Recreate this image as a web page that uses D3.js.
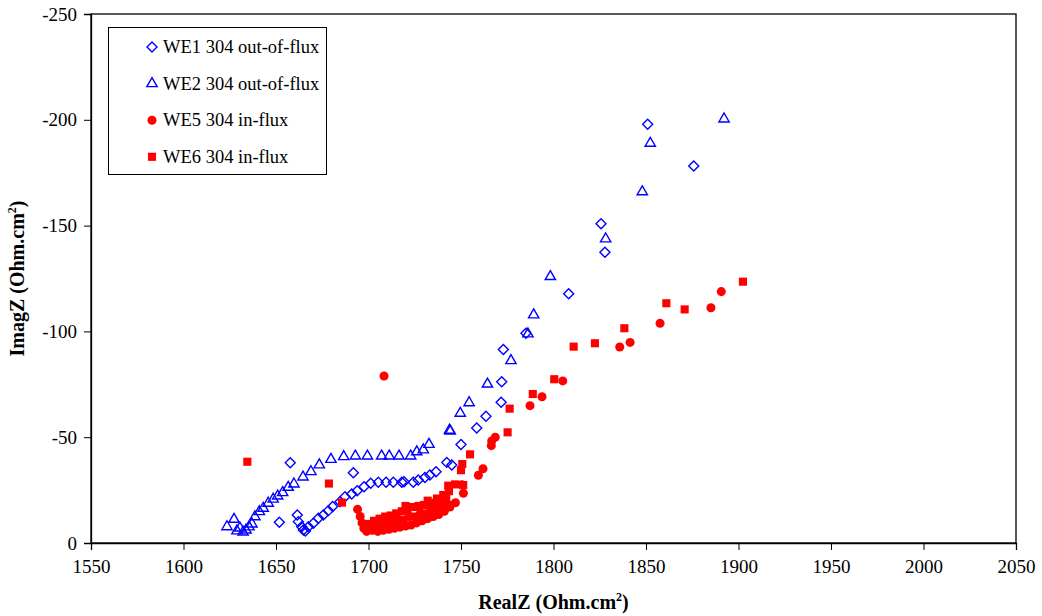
<!DOCTYPE html>
<html lang="en">
<head>
    <meta charset="UTF-8">
    <title>Nyquist plot</title>
    <style>
        body { margin: 0; background: #fff; }
        svg { display: block; }
        text { font-family: "Liberation Serif", "Times New Roman", serif; fill: #000; }
    </style>
</head>
<body>
    <div id="graphic"></div>

    <script src="https://cdn.jsdelivr.net/npm/d3@7"></script>
    <script>
        // series values: [RealZ, ImagZ]
        var we1 = [
            [1657.7, -37.9], [1651.8, -9.8], [1661.5, -13.2], [1662.1, -10.1], [1663.9, -7.7],
            [1664.8, -6.1], [1665.9, -5.7], [1667.5, -7.7], [1670.2, -9.3], [1672.9, -11.7],
            [1675.6, -13.2], [1678.3, -15.3], [1680.6, -17.2], [1684.6, -19.5], [1687.3, -21.9],
            [1690.9, -23.2], [1691.8, -33.2], [1693.9, -24.7], [1697.6, -26.6], [1701.2, -28.2],
            [1705.3, -28.7], [1709.5, -28.7], [1713.4, -28.7], [1718.0, -28.7], [1719.2, -29.0],
            [1724.2, -28.7], [1726.9, -29.8], [1730.5, -31.0], [1733.2, -32.1], [1736.5, -33.7],
            [1742.3, -38.1], [1745.0, -36.9], [1750.0, -46.5], [1758.5, -54.3], [1763.5, -59.9],
            [1771.7, -66.5], [1772.0, -76.2], [1772.9, -91.4], [1785.1, -99.1], [1808.2, -117.8],
            [1827.8, -137.4], [1825.7, -150.9], [1850.9, -197.9], [1875.8, -178.2]
        ];
        var we2 = [
            [1623.5, -7.7], [1627.3, -11.2], [1628.9, -5.7], [1630.5, -7.1], [1632.2, -5.2],
            [1633.8, -6.1], [1635.4, -7.6], [1637.0, -9.0], [1638.6, -12.4], [1641.0, -14.8],
            [1643.1, -16.4], [1645.8, -18.8], [1648.5, -20.7], [1650.9, -22.2], [1653.6, -23.8],
            [1656.6, -26.3], [1659.7, -27.9], [1664.6, -31.2], [1668.9, -33.7], [1673.4, -36.9],
            [1679.7, -39.5], [1686.6, -40.8], [1692.9, -41.1], [1699.4, -41.1], [1707.1, -41.1],
            [1711.2, -41.1], [1716.5, -41.1], [1722.8, -41.1], [1726.1, -43.1], [1729.6, -44.0],
            [1732.7, -46.6], [1743.8, -53.3], [1744.2, -52.9], [1749.6, -61.3], [1754.4, -66.3],
            [1764.3, -75.1], [1777.0, -86.2], [1786.2, -98.8], [1789.3, -107.8], [1798.3, -125.9],
            [1828.2, -143.7], [1848.0, -166.0], [1852.3, -188.9], [1892.2, -200.4]
        ];
        var we5 = [
            [1708.4, -78.9], [1694.1, -15.9], [1695.5, -12.5], [1696.5, -9.5], [1697.5, -7.0],
            [1699, -5.5], [1702, -6], [1705, -5.5], [1708, -6], [1711, -6.5], [1714, -7],
            [1717, -7.5], [1720, -8], [1723, -8.5], [1726, -9.5], [1729, -10.5], [1732, -11.5],
            [1735, -12.5], [1738, -13.5], [1741, -15], [1744, -17], [1747, -19],
            [1704, -9], [1710, -10], [1716, -11], [1722, -12.5], [1728, -14], [1734, -15.5], [1740, -17.5],
            [1751.3, -23.5], [1750.5, -27.5], [1759.4, -32.0], [1761.9, -35.1], [1766.4, -46.0],
            [1766.6, -48.2], [1768.5, -50.0], [1787.3, -64.9], [1793.8, -69.1], [1805.0, -76.6],
            [1835.8, -92.6], [1841.4, -94.8], [1857.6, -103.8], [1885.1, -111.2], [1890.7, -118.8]
        ];
        var we6 = [
            [1634.5, -38.4], [1678.6, -28.1], [1685.7, -19.1],
            [1700, -9], [1703, -10.5], [1706, -11.5], [1709, -12.5], [1712, -13], [1715, -14],
            [1718, -15], [1721, -16], [1724, -17], [1727, -17.5], [1730, -18], [1733, -18.5],
            [1736, -19], [1739, -20], [1742, -21.5], [1720, -17.5], [1732, -20], [1737, -21],
            [1701, -7], [1707, -8], [1713, -9.5], [1719, -11], [1725, -12.5], [1731, -14],
            [1737, -16], [1743, -18], [1740.4, -22.7], [1743.5, -24.5],
            [1743.1, -27.1], [1746.8, -27.7], [1751.2, -27.4], [1750.0, -34.4], [1750.7, -37.3],
            [1754.9, -41.9], [1775.2, -52.3], [1776.3, -63.5], [1788.8, -70.4], [1800.4, -77.4],
            [1810.9, -92.8], [1822.4, -94.4], [1838.3, -101.5], [1861.0, -113.3], [1870.9, -110.4],
            [1902.4, -123.5]
        ];

        var seriesNames = ['WE1 304 out-of-flux', 'WE2 304 out-of-flux', 'WE5 304 in-flux', 'WE6 304 in-flux'];
        var xTicks = [1550, 1600, 1650, 1700, 1750, 1800, 1850, 1900, 1950, 2000, 2050];
        var yTicks = [0, -50, -100, -150, -200, -250];

        var width = 1042;
        var height = 616;
        var margin = {left: 91, right: 26, top: 14, bottom: 73};

        var x = d3.scaleLinear().domain([1550, 2050]).range([margin.left, width - margin.right]);
        var y = d3.scaleLinear().domain([0, -250]).range([height - margin.bottom, margin.top]);

        var svg = d3.select('#graphic')
            .append('svg')
            .attr('width', width)
            .attr('height', height);

        // plot frame
        svg.append('rect')
            .attr('x', x(1550))
            .attr('y', y(-250))
            .attr('width', x(2050) - x(1550))
            .attr('height', y(0) - y(-250))
            .attr('fill', 'none')
            .attr('stroke', '#000')
            .attr('stroke-width', 1.3);

        var xAxis = svg.append('g')
            .attr('transform', 'translate(0,' + y(0) + ')')
            .call(d3.axisBottom(x).tickValues(xTicks).tickSize(7).tickPadding(10).tickFormat(d3.format('d')));
        var yAxis = svg.append('g')
            .attr('transform', 'translate(' + x(1550) + ',0)')
            .call(d3.axisLeft(y).tickValues(yTicks).tickSize(7).tickPadding(7).tickFormat(function(d) { return d === 0 ? '0' : '-' + Math.abs(d); }));

        [xAxis, yAxis].forEach(function(a) {
            a.select('.domain').attr('stroke', '#000').attr('stroke-width', 1.3);
            a.selectAll('.tick line').attr('stroke', '#000');
            a.selectAll('.tick text')
                .attr('font-family', '"Liberation Serif", serif')
                .attr('font-size', 19)
                .attr('fill', '#000');
        });

        // axis titles
        var xt = svg.append('text')
            .attr('x', (x(1550) + x(2050)) / 2)
            .attr('y', 609)
            .attr('text-anchor', 'middle')
            .attr('font-size', 20)
            .attr('font-weight', 'bold');
        xt.append('tspan').text('RealZ (Ohm.cm');
        xt.append('tspan').attr('font-size', 12).attr('dy', -8).text('2');
        xt.append('tspan').attr('dy', 8).text(')');

        var yt = svg.append('text')
            .attr('transform', 'translate(24,' + (y(0) + y(-250)) / 2 + ') rotate(-90)')
            .attr('text-anchor', 'middle')
            .attr('font-size', 20)
            .attr('font-weight', 'bold');
        yt.append('tspan').text('ImagZ (Ohm.cm');
        yt.append('tspan').attr('font-size', 12).attr('dy', -8).text('2');
        yt.append('tspan').attr('dy', 8).text(')');

        var diamond = 'M0,-5L5,0L0,5L-5,0Z';
        var triangle = d3.symbol().type(d3.symbolTriangle).size(46)();
        var circle = d3.symbol().type(d3.symbolCircle).size(64)();
        var square = d3.symbol().type(d3.symbolSquare).size(66)();

        var styles = [
            {data: we1, path: diamond, fill: 'none', stroke: '#0000ff'},
            {data: we2, path: triangle, fill: 'none', stroke: '#0000ff'},
            {data: we5, path: circle, fill: '#ff0000', stroke: 'none'},
            {data: we6, path: square, fill: '#ff0000', stroke: 'none'}
        ];

        styles.forEach(function(s) {
            svg.append('g')
                .selectAll('path')
                .data(s.data)
                .join('path')
                .attr('d', s.path)
                .attr('transform', function(d) { return 'translate(' + x(d[0]) + ',' + y(d[1]) + ')'; })
                .attr('fill', s.fill)
                .attr('stroke', s.stroke)
                .attr('stroke-width', 1.4);
        });

        // legend
        var legend = svg.append('g');
        legend.append('rect')
            .attr('x', 108.5)
            .attr('y', 27.5)
            .attr('width', 218)
            .attr('height', 147)
            .attr('fill', '#fff')
            .attr('stroke', '#000')
            .attr('stroke-width', 1);

        var legendRows = legend.selectAll('g.row')
            .data(styles)
            .join('g')
            .attr('class', 'row')
            .attr('transform', function(d, i) { return 'translate(152,' + (47 + i * 36.6) + ')'; });
        legendRows.append('path')
            .attr('d', function(d) { return d.path; })
            .attr('fill', function(d) { return d.fill; })
            .attr('stroke', function(d) { return d.stroke; })
            .attr('stroke-width', 1.4);
        legendRows.append('text')
            .attr('x', 11)
            .attr('y', 6)
            .attr('font-size', 18.5)
            .text(function(d, i) { return seriesNames[i]; });
    </script>
</body>
</html>
